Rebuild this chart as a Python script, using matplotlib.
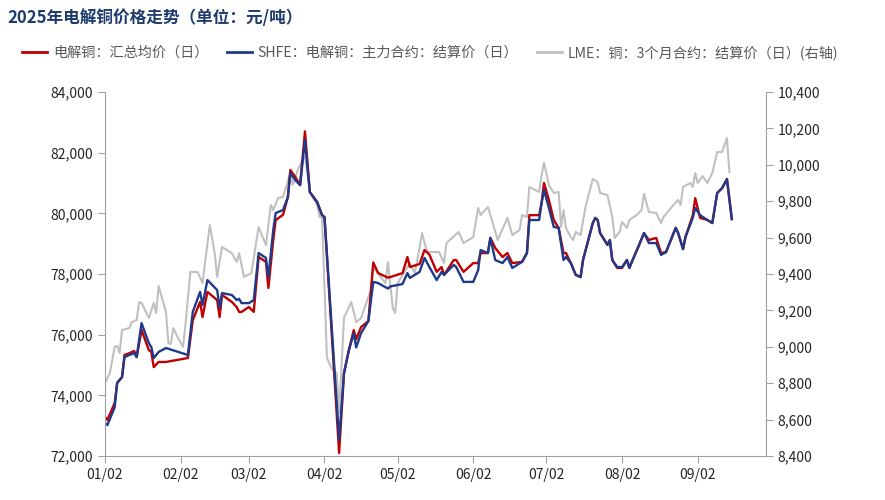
import matplotlib
matplotlib.use("Agg")
from matplotlib import pyplot as plt
import matplotlib.dates as mdates
from matplotlib.ticker import FuncFormatter
import pandas as pd

plt.rcParams['font.family'] = ['Noto Sans CJK SC', 'DejaVu Sans']

# 电解铜汇总均价 / SHFE 主力合约结算价 (元/吨)
cn_dates = [
    "2025-01-02", "2025-01-03", "2025-01-06", "2025-01-07", "2025-01-09", "2025-01-10",
    "2025-01-12", "2025-01-14", "2025-01-15", "2025-01-17", "2025-01-20", "2025-01-21",
    "2025-01-22", "2025-01-24", "2025-01-27", "2025-02-05", "2025-02-07", "2025-02-10",
    "2025-02-11", "2025-02-13", "2025-02-17", "2025-02-18", "2025-02-19", "2025-02-23",
    "2025-02-25", "2025-02-26", "2025-02-27", "2025-03-02", "2025-03-04", "2025-03-06",
    "2025-03-09", "2025-03-10", "2025-03-12", "2025-03-13", "2025-03-16", "2025-03-18",
    "2025-03-19", "2025-03-21", "2025-03-23", "2025-03-25", "2025-03-27", "2025-03-30",
    "2025-04-01", "2025-04-02", "2025-04-08", "2025-04-10", "2025-04-12", "2025-04-14",
    "2025-04-15", "2025-04-17", "2025-04-20", "2025-04-22", "2025-04-24", "2025-04-28",
    "2025-04-29", "2025-05-04", "2025-05-06", "2025-05-07", "2025-05-11", "2025-05-13",
    "2025-05-15", "2025-05-18", "2025-05-20", "2025-05-21", "2025-05-25", "2025-05-26",
    "2025-05-29", "2025-06-02", "2025-06-04", "2025-06-05", "2025-06-08", "2025-06-09",
    "2025-06-11", "2025-06-14", "2025-06-16", "2025-06-18", "2025-06-22", "2025-06-24",
    "2025-06-25", "2025-06-29", "2025-06-30", "2025-07-01", "2025-07-03", "2025-07-05",
    "2025-07-07", "2025-07-09", "2025-07-10", "2025-07-12", "2025-07-14", "2025-07-16",
    "2025-07-17", "2025-07-21", "2025-07-22", "2025-07-23", "2025-07-24", "2025-07-27",
    "2025-07-28", "2025-07-29", "2025-07-31", "2025-08-02", "2025-08-04", "2025-08-05",
    "2025-08-06", "2025-08-09", "2025-08-11", "2025-08-13", "2025-08-16", "2025-08-18",
    "2025-08-20", "2025-08-24", "2025-08-25", "2025-08-27", "2025-08-28", "2025-08-31",
    "2025-09-01", "2025-09-03", "2025-09-06", "2025-09-08", "2025-09-10", "2025-09-12",
    "2025-09-14", "2025-09-16",
]
avg_price = [
    73290, 73190, 73750, 74410, 74600, 75330, 75390, 75460, 75260, 76150, 75490, 75430,
    74930, 75100, 75100, 75230, 76480, 77080, 76580, 77410, 77140, 76580, 77310, 77080,
    76910, 76750, 76750, 76910, 76750, 78560, 78400, 77540, 79120, 79780, 79950, 80540,
    81430, 81200, 80930, 82700, 80700, 80370, 79940, 79880, 72100, 74730, 75490, 76150,
    75850, 76250, 76450, 78380, 78030, 77880, 77900, 78030, 78560, 78230, 78330, 78790,
    78640, 78070, 78230, 77970, 78460, 78460, 78070, 78360, 78360, 78690, 78690, 79190,
    78860, 78560, 78690, 78360, 78400, 78690, 79940, 79940, 80340, 81000, 80440, 79780,
    79520, 78690, 78690, 78360, 77970, 77900, 78460, 79680, 79850, 79780, 79350, 78960,
    79120, 78460, 78200, 78200, 78460, 78200, 78400, 78960, 79350, 79120, 79190, 78690,
    78720, 79520, 79350, 78820, 79220, 79940, 80500, 79850, 79780, 79680, 80670, 80830,
    81130, 79810,
]
shfe_price = [
    73090, 73020, 73610, 74410, 74600, 75260, 75330, 75390, 75260, 76380, 75720, 75590,
    75230, 75430, 75560, 75330, 76750, 77410, 76980, 77800, 77470, 76880, 77370, 77310,
    77140, 77180, 77040, 77040, 77140, 78690, 78530, 77900, 79450, 80010, 80110, 80540,
    81330, 81100, 80930, 82420, 80700, 80370, 79940, 79880, 72530, 74730, 75490, 76050,
    75580, 76050, 76450, 77740, 77700, 77520, 77590, 77670, 78030, 77870, 78070, 78530,
    78230, 77800, 78070, 77970, 78300, 78230, 77740, 77740, 78130, 78790, 78690, 79190,
    78460, 78360, 78560, 78200, 78400, 78690, 79780, 79780, 80340, 80770, 80180, 79550,
    79520, 78460, 78560, 78360, 77970, 77900, 78460, 79680, 79850, 79780, 79350, 78960,
    79120, 78460, 78230, 78230, 78460, 78200, 78400, 78960, 79350, 79020, 79020, 78630,
    78720, 79520, 79350, 78820, 79220, 79850, 80180, 79940, 79780, 79680, 80670, 80830,
    81130, 79810,
]

# LME 铜 3个月合约结算价 (美元/吨, 右轴)
lme_dates = [
    "2025-01-02", "2025-01-04", "2025-01-06", "2025-01-07", "2025-01-08", "2025-01-09",
    "2025-01-12", "2025-01-13", "2025-01-15", "2025-01-16", "2025-01-17", "2025-01-20",
    "2025-01-22", "2025-01-23", "2025-01-24", "2025-01-27", "2025-01-28", "2025-01-29",
    "2025-01-30", "2025-02-01", "2025-02-03", "2025-02-04", "2025-02-06", "2025-02-09",
    "2025-02-11", "2025-02-12", "2025-02-14", "2025-02-16", "2025-02-17", "2025-02-19",
    "2025-02-23", "2025-02-25", "2025-02-26", "2025-02-28", "2025-03-03", "2025-03-04",
    "2025-03-06", "2025-03-09", "2025-03-11", "2025-03-12", "2025-03-14", "2025-03-16",
    "2025-03-19", "2025-03-20", "2025-03-22", "2025-03-24", "2025-03-25", "2025-03-27",
    "2025-03-30", "2025-03-31", "2025-04-01", "2025-04-03", "2025-04-05", "2025-04-07",
    "2025-04-08", "2025-04-10", "2025-04-13", "2025-04-15", "2025-04-17", "2025-04-21",
    "2025-04-22", "2025-04-25", "2025-04-27", "2025-04-28", "2025-04-30", "2025-05-01",
    "2025-05-02", "2025-05-07", "2025-05-09", "2025-05-11", "2025-05-12", "2025-05-14",
    "2025-05-17", "2025-05-19", "2025-05-21", "2025-05-22", "2025-05-27", "2025-05-29",
    "2025-06-02", "2025-06-04", "2025-06-05", "2025-06-08", "2025-06-10", "2025-06-12",
    "2025-06-16", "2025-06-18", "2025-06-21", "2025-06-22", "2025-06-24", "2025-06-25",
    "2025-06-29", "2025-06-30", "2025-07-01", "2025-07-03", "2025-07-05", "2025-07-07",
    "2025-07-08", "2025-07-09", "2025-07-10", "2025-07-12", "2025-07-13", "2025-07-14",
    "2025-07-16", "2025-07-18", "2025-07-21", "2025-07-23", "2025-07-24", "2025-07-27",
    "2025-07-29", "2025-07-30", "2025-08-01", "2025-08-02", "2025-08-04", "2025-08-05",
    "2025-08-08", "2025-08-10", "2025-08-11", "2025-08-13", "2025-08-16", "2025-08-18",
    "2025-08-19", "2025-08-23", "2025-08-25", "2025-08-26", "2025-08-27", "2025-08-30",
    "2025-08-31", "2025-09-01", "2025-09-02", "2025-09-04", "2025-09-06", "2025-09-08",
    "2025-09-10", "2025-09-12", "2025-09-14", "2025-09-15",
]
lme_price = [
    8800, 8856, 9000, 9005, 8966, 9092, 9103, 9136, 9147, 9246, 9241, 9158,
    9241, 9186, 9334, 9191, 9021, 9015, 9103, 9048, 9000, 9120, 9411, 9411,
    9350, 9460, 9669, 9515, 9384, 9548, 9515, 9466, 9515, 9384, 9405, 9488,
    9658, 9559, 9779, 9752, 9818, 9823, 9955, 9889, 9971, 10026, 10043, 9851,
    9779, 9713, 9708, 8940, 8880, 8856, 8636, 9160, 9246, 9136, 9158, 9312,
    9438, 9384, 9350, 9466, 9213, 9186, 9350, 9460, 9405, 9543, 9625, 9521,
    9521, 9521, 9460, 9570, 9631, 9570, 9603, 9763, 9724, 9768, 9680, 9587,
    9708, 9614, 9642, 9724, 9713, 9878, 9851, 9944, 10012, 9889, 9845, 9851,
    9658, 9752, 9653, 9603, 9587, 9631, 9614, 9768, 9922, 9905, 9845, 9834,
    9713, 9598, 9631, 9686, 9653, 9697, 9724, 9752, 9840, 9741, 9735, 9680,
    9713, 9779, 9807, 9779, 9878, 9900, 9878, 9955, 9900, 9938, 9900, 9955,
    10070, 10070, 10147, 9960,
]

labels = ["电解铜：汇总均价（日）", "SHFE：电解铜：主力合约：结算价（日）",
          "LME：铜：3个月合约：结算价（日）(右轴)"]
colors = ["#C00000", "#1F3A8A", "#C0C0C0"]

cn_x = pd.to_datetime(cn_dates)
lme_x = pd.to_datetime(lme_dates)

fig = plt.figure(figsize=(8.85, 5), dpi=100)
ax = fig.add_axes([0.1186, 0.088, 0.7469, 0.728])
ax2 = ax.twinx()
ax.set_zorder(ax2.get_zorder() + 1)
ax.patch.set_visible(False)

l3, = ax2.plot(lme_x, lme_price, color=colors[2], lw=1.5)
l1, = ax.plot(cn_x, avg_price, color=colors[0], lw=1.7)
l2, = ax.plot(cn_x, shfe_price, color=colors[1], lw=1.7)

ax.set_ylim(72000, 84000)
ax.set_yticks(range(72000, 84001, 2000))
ax2.set_ylim(8400, 10400)
ax2.set_yticks(range(8400, 10401, 200))
fmt = FuncFormatter(lambda v, p: "{:,.0f}".format(v))
ax.yaxis.set_major_formatter(fmt)
ax2.yaxis.set_major_formatter(fmt)

ax.set_xlim(pd.Timestamp("2025-01-02"), pd.Timestamp("2025-09-30"))
ax.xaxis.set_major_locator(mdates.MonthLocator(bymonthday=2))
ax.xaxis.set_major_formatter(mdates.DateFormatter("%m/%d"))

spine_c = "#A0A0A0"
for a in (ax, ax2):
    a.spines["top"].set_visible(False)
    for s in ("left", "right", "bottom"):
        a.spines[s].set_color(spine_c)
    a.tick_params(colors=spine_c, labelcolor="#262626", labelsize=10, length=5, direction="out")
ax.spines["right"].set_visible(False)
ax2.spines["left"].set_visible(False)
ax2.spines["bottom"].set_visible(False)

fig.text(0.008, 0.963, "2025年电解铜价格走势（单位：元/吨）", fontsize=12, fontweight="bold",
         color="#1F3A6E", va="center")
leg = fig.legend([l1, l2, l3], labels, loc="center left", bbox_to_anchor=(0.01, 0.895), ncol=3,
                 frameon=False, fontsize=10.2, handlelength=1.8, handletextpad=0.4,
                 columnspacing=1.3)
for t in leg.get_texts():
    t.set_color("#595959")
for h in leg.legend_handles:
    h.set_linewidth(2)

fig.savefig("out.png", dpi=100)
